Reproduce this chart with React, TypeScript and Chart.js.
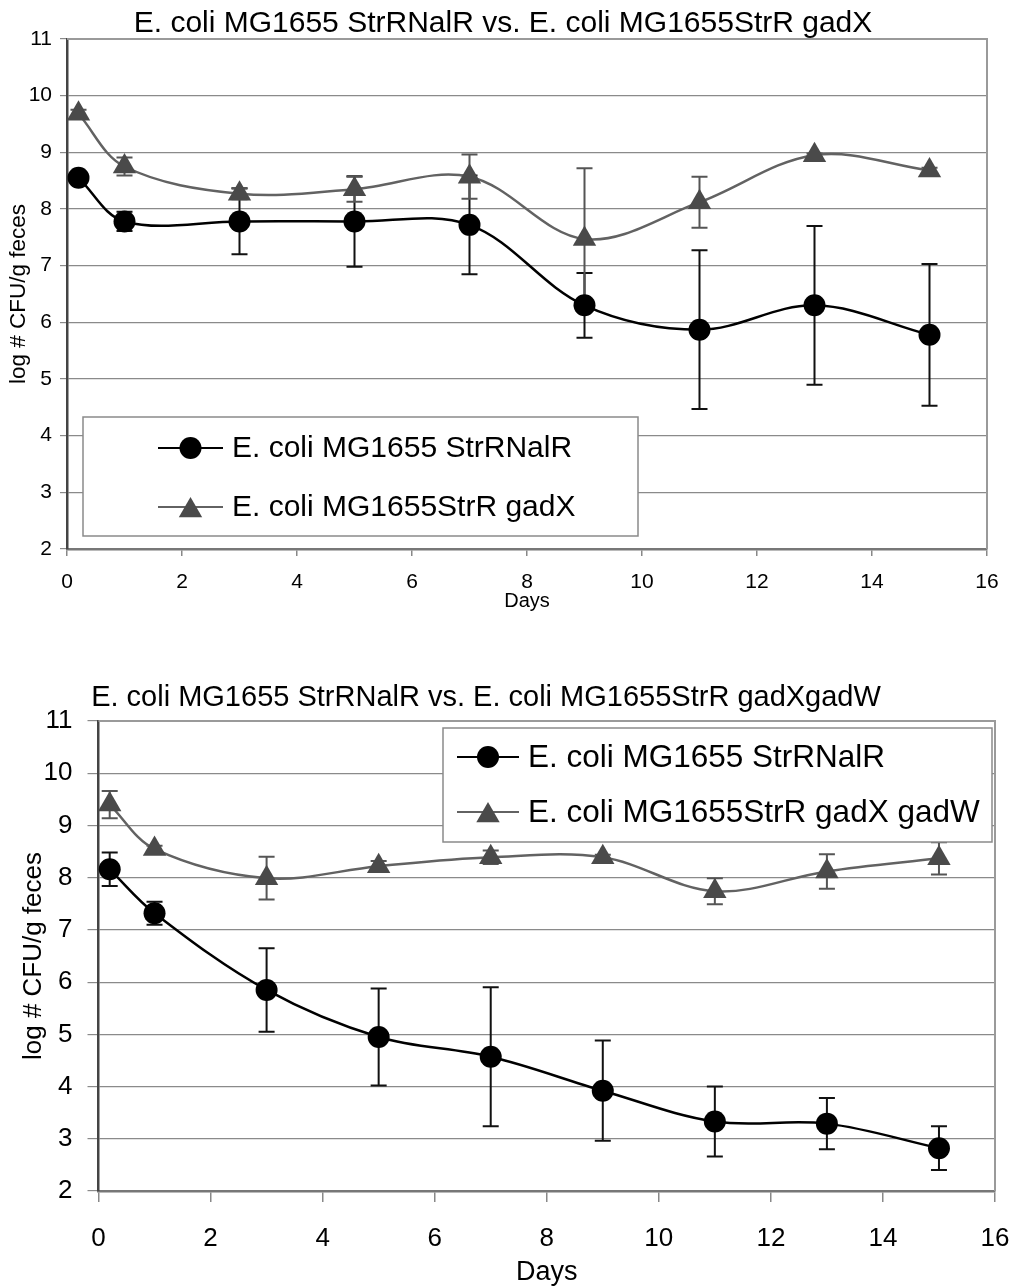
import React, { useEffect, useRef } from "react";
import { Chart, registerables } from "chart.js";

Chart.register(...registerables);

// ---------- data ----------
const days = [0.2, 1, 3, 5, 7, 9, 11, 13, 15];

const title1 = "E. coli MG1655 StrRNalR vs. E. coli MG1655StrR gadX";
const title2 = "E. coli MG1655 StrRNalR vs. E. coli MG1655StrR gadXgadW";
const yTitle = "log # CFU/g feces";
const xTitle = "Days";

const nalRLabel = "E. coli MG1655 StrRNalR";
const gadXLabel = "E. coli MG1655StrR gadX";
const gadXWLabel = "E. coli MG1655StrR gadX gadW";

// chart 1
const nalR1 = [8.55, 7.78, 7.78, 7.78, 7.72, 6.3, 5.87, 6.3, 5.78];
const nalR1Err = [0.05, 0.17, 0.58, 0.8, 0.87, 0.57, 1.4, 1.4, 1.25];
const gadX1 = [9.68, 8.75, 8.27, 8.35, 8.57, 7.47, 8.12, 8.95, 8.68];
const gadX1Err = [0.07, 0.16, 0.1, 0.22, 0.39, 1.25, 0.45, 0.03, 0.05];

// chart 2
const nalR2 = [8.16, 7.32, 5.85, 4.95, 4.57, 3.92, 3.33, 3.29, 2.82];
const nalR2Err = [0.32, 0.22, 0.8, 0.93, 1.33, 0.96, 0.67, 0.49, 0.42];
const gadXW2 = [9.4, 8.55, 7.99, 8.22, 8.39, 8.39, 7.74, 8.12, 8.37];
const gadXW2Err = [0.26, 0.06, 0.41, 0.1, 0.13, 0.05, 0.25, 0.33, 0.31];

const xMin = 0, xMax = 16, xStep = 2;
const yMin = 2, yMax = 11, yStep = 1;

// ---------- styling ----------
const FONT = "'Liberation Sans', Arial, sans-serif";
const BLACK = "#000000";
const GRAY_FILL = "#4a4a4a";
const GRAY_LINE = "#626262";

type Series = {
  label: string;
  values: number[];
  errs: number[];
  color: string;
  lineColor: string;
  style: "circle" | "triangle";
  radius: number;
};

type Cfg = {
  width: number;
  height: number;
  area: { left: number; top: number; right: number; bottom: number };
  tickFont: number;
  tickLen: number;
  yTickPad: number;
  xTickPad: number;
  xAxisH: number;
  title: string;
  titleFont: number;
  titleX: number;
  titleY: number;
  yTitleFont: number;
  yTitleX: number;
  xTitleFont: number;
  xTitleY: number;
  legend: {
    left: number;
    top: number;
    right: number;
    bottom: number;
    rows: number[];
    lineX0: number;
    lineX1: number;
    textX: number;
    font: number;
  };
  series: Series[];
};

function drawMarker(ctx: CanvasRenderingContext2D, style: string, x: number, y: number, r: number, color: string) {
  ctx.save();
  ctx.fillStyle = color;
  ctx.beginPath();
  if (style === "circle") {
    ctx.arc(x, y, r, 0, Math.PI * 2);
  } else {
    let a = 0;
    const cy = y + r * 0.25;
    ctx.moveTo(x + Math.sin(a) * r, cy - Math.cos(a) * r);
    a += (2 * Math.PI) / 3;
    ctx.lineTo(x + Math.sin(a) * r, cy - Math.cos(a) * r);
    a += (2 * Math.PI) / 3;
    ctx.lineTo(x + Math.sin(a) * r, cy - Math.cos(a) * r);
    ctx.closePath();
  }
  ctx.fill();
  ctx.restore();
}

function decorPlugin(cfg: Cfg) {
  return {
    id: "decor",
    beforeDatasetsDraw(chart: any) {
      const { ctx } = chart;
      const x = chart.scales.x;
      const y = chart.scales.y;
      cfg.series.forEach((s) => {
        ctx.save();
        ctx.strokeStyle = s.style === "circle" ? "#111" : "#555";
        ctx.lineWidth = 2;
        s.values.forEach((v, j) => {
          const e = s.errs[j];
          const px = x.getPixelForValue(days[j]);
          const t = y.getPixelForValue(v + e);
          const b = y.getPixelForValue(v - e);
          const cap = 8;
          ctx.beginPath();
          ctx.moveTo(px, t);
          ctx.lineTo(px, b);
          ctx.moveTo(px - cap, t);
          ctx.lineTo(px + cap, t);
          ctx.moveTo(px - cap, b);
          ctx.lineTo(px + cap, b);
          ctx.stroke();
        });
        ctx.restore();
      });
    },
    afterDraw(chart: any) {
      const { ctx, chartArea } = chart;
      ctx.save();
      // plot border (top & right)
      ctx.strokeStyle = "#9a9a9a";
      ctx.lineWidth = 2;
      ctx.beginPath();
      ctx.moveTo(chartArea.left, chartArea.top);
      ctx.lineTo(chartArea.right, chartArea.top);
      ctx.lineTo(chartArea.right, chartArea.bottom);
      ctx.stroke();

      ctx.fillStyle = "#000";
      // title
      ctx.font = `${cfg.titleFont}px ${FONT}`;
      ctx.textAlign = "center";
      ctx.textBaseline = "alphabetic";
      ctx.fillText(cfg.title, cfg.titleX, cfg.titleY);
      // x title
      ctx.font = `${cfg.xTitleFont}px ${FONT}`;
      ctx.textBaseline = "middle";
      ctx.fillText(xTitle, (chartArea.left + chartArea.right) / 2, cfg.xTitleY);
      // y title
      ctx.save();
      ctx.translate(cfg.yTitleX, (chartArea.top + chartArea.bottom) / 2);
      ctx.rotate(-Math.PI / 2);
      ctx.font = `${cfg.yTitleFont}px ${FONT}`;
      ctx.fillText(yTitle, 0, 0);
      ctx.restore();

      // legend
      const L = cfg.legend;
      ctx.fillStyle = "#fff";
      ctx.fillRect(L.left, L.top, L.right - L.left, L.bottom - L.top);
      ctx.strokeStyle = "#8a8a8a";
      ctx.lineWidth = 1.5;
      ctx.strokeRect(L.left, L.top, L.right - L.left, L.bottom - L.top);
      cfg.series.forEach((s, i) => {
        const ry = L.rows[i];
        ctx.strokeStyle = s.lineColor;
        ctx.lineWidth = 2;
        ctx.beginPath();
        ctx.moveTo(L.lineX0, ry);
        ctx.lineTo(L.lineX1, ry);
        ctx.stroke();
        drawMarker(ctx, s.style, (L.lineX0 + L.lineX1) / 2, ry, s.radius, s.color);
        ctx.fillStyle = "#000";
        ctx.font = `${L.font}px ${FONT}`;
        ctx.textAlign = "left";
        ctx.textBaseline = "middle";
        ctx.fillText(s.label, L.textX, ry + 1);
      });
      ctx.restore();
    },
  };
}

function buildChart(canvas: HTMLCanvasElement, cfg: Cfg) {
  const a = cfg.area;
  const datasets = cfg.series.map((s) => ({
    label: s.label,
    data: s.values.map((v, j) => ({ x: days[j], y: v })),
    borderColor: s.lineColor,
    borderWidth: 2.5,
    backgroundColor: s.color,
    pointBackgroundColor: s.color,
    pointBorderColor: s.color,
    pointBorderWidth: 0,
    pointStyle: s.style,
    pointRadius: s.radius,
    tension: 0.35,
    fill: false,
    clip: false as any,
  }));
  return new Chart(canvas, {
    type: "line",
    data: { datasets },
    plugins: [decorPlugin(cfg)],
    options: {
      animation: false,
      responsive: false,
      devicePixelRatio: 1,
      events: [],
      layout: {
        padding: {
          left: 0,
          top: a.top,
          right: cfg.width - a.right,
          bottom: cfg.height - a.bottom - cfg.xAxisH,
        },
      },
      plugins: {
        legend: { display: false },
        title: { display: false },
        tooltip: { enabled: false },
      },
      scales: {
        x: {
          type: "linear",
          min: xMin,
          max: xMax,
          ticks: {
            stepSize: xStep,
            color: "#000",
            font: { family: FONT, size: cfg.tickFont },
            padding: cfg.xTickPad,
            maxRotation: 0,
          },
          grid: {
            drawOnChartArea: false,
            drawTicks: true,
            tickLength: cfg.tickLen,
            color: "#888",
            lineWidth: 1.5,
          },
          border: { display: true, color: "#777", width: 2.5 },
          afterFit(scale: any) {
            scale.height = cfg.xAxisH;
            scale.paddingLeft = 0;
            scale.paddingRight = 0;
          },
        },
        y: {
          type: "linear",
          min: yMin,
          max: yMax,
          ticks: {
            stepSize: yStep,
            color: "#000",
            font: { family: FONT, size: cfg.tickFont },
            padding: cfg.yTickPad,
          },
          grid: {
            drawOnChartArea: true,
            drawTicks: true,
            tickLength: cfg.tickLen,
            color: "#8a8a8a",
            lineWidth: 1.2,
          },
          border: { display: true, color: "#444", width: 2.5 },
          afterFit(scale: any) {
            scale.width = a.left;
            scale.paddingTop = 0;
            scale.paddingBottom = 0;
          },
        },
      },
    } as any,
  });
}

const cfg1: Cfg = {
  width: 1016,
  height: 640,
  area: { left: 67, top: 39, right: 987, bottom: 549 },
  tickFont: 21,
  tickLen: 7,
  yTickPad: 8,
  xTickPad: 14,
  xAxisH: 60,
  title: title1,
  titleFont: 30,
  titleX: 503,
  titleY: 32,
  yTitleFont: 22.5,
  yTitleX: 19,
  xTitleFont: 20,
  xTitleY: 601,
  legend: {
    left: 83,
    top: 417,
    right: 638,
    bottom: 536,
    rows: [448, 507],
    lineX0: 158,
    lineX1: 223,
    textX: 232,
    font: 30,
  },
  series: [
    { label: nalRLabel, values: nalR1, errs: nalR1Err, color: BLACK, lineColor: BLACK, style: "circle", radius: 11 },
    { label: gadXLabel, values: gadX1, errs: gadX1Err, color: GRAY_FILL, lineColor: GRAY_LINE, style: "triangle", radius: 13.5 },
  ],
};

const cfg2: Cfg = {
  width: 1016,
  height: 648,
  area: { left: 98.5, top: 81, right: 995, bottom: 551 },
  tickFont: 26,
  tickLen: 11,
  yTickPad: 15,
  xTickPad: 21,
  xAxisH: 80,
  title: title2,
  titleFont: 29,
  titleX: 486,
  titleY: 66,
  yTitleFont: 26,
  yTitleX: 34,
  xTitleFont: 27,
  xTitleY: 633,
  legend: {
    left: 443,
    top: 88,
    right: 992,
    bottom: 202,
    rows: [117, 172],
    lineX0: 457,
    lineX1: 519,
    textX: 528,
    font: 31.5,
  },
  series: [
    { label: nalRLabel, values: nalR2, errs: nalR2Err, color: BLACK, lineColor: BLACK, style: "circle", radius: 11 },
    { label: gadXWLabel, values: gadXW2, errs: gadXW2Err, color: GRAY_FILL, lineColor: GRAY_LINE, style: "triangle", radius: 13.5 },
  ],
};

function ChartCanvas({ cfg, top }: { cfg: Cfg; top: number }) {
  const ref = useRef<HTMLCanvasElement | null>(null);
  useEffect(() => {
    if (!ref.current) return;
    const c = buildChart(ref.current, cfg);
    return () => c.destroy();
  }, [cfg]);
  return (
    <canvas
      ref={ref}
      width={cfg.width}
      height={cfg.height}
      style={{ position: "absolute", left: 0, top, width: cfg.width, height: cfg.height }}
    />
  );
}

export default function App() {
  useEffect(() => {
    document.body.style.margin = "0";
    document.body.style.background = "#fff";
  }, []);
  return (
    <div style={{ position: "relative", width: 1016, height: 1288, background: "#fff", overflow: "hidden" }}>
      <ChartCanvas cfg={cfg1} top={0} />
      <ChartCanvas cfg={cfg2} top={640} />
    </div>
  );
}
